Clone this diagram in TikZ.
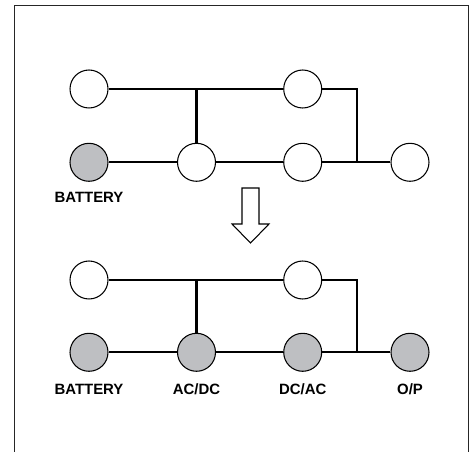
\documentclass[tikz,border=0pt]{standalone}
\usepackage{fontspec}
\setmainfont{Liberation Sans}
\usepackage{tikz}
\usetikzlibrary{positioning, calc}
\definecolor{unitgray}{RGB}{190,191,194}

\begin{document}
\begin{tikzpicture}[
  x=0.02cm, y=-0.02cm,
  %% unit styles
  unit/.style={
    circle, draw=black, line width=0.6pt, fill=white,
    inner sep=0pt, minimum size=0.76cm},
  active/.style={unit, fill=unitgray},
  bus/.style={line width=1.15pt, black},
  lbl/.style={font=\fontsize{8.5}{10}\selectfont\bfseries, inner sep=0pt},
  frame/.style={line width=1.1pt, black!85},
  hollow/.style={line width=0.6pt, black, fill=white, line join=miter}
]
\useasboundingbox (0,0) rectangle (470,452);

%% outer frame (open at the bottom)
\draw[frame] (14.5,452) -- (14.5,5.5) -- (468.5,5.5) -- (468.5,452);

%% ── Before: only the battery is active ────────────────────────────────
\node[unit]   (ta1) at (89,89) {};
\node[unit]   (ta2) at (302.7,89) {};
\node[active] (ba1) at (89,162.3) {};
\node[unit]   (ba2) at (196.5,162.3) {};
\node[unit]   (ba3) at (302.7,162.3) {};
\node[unit]   (ba4) at (410,162.3) {};
\node[lbl, below=0.21cm of ba1] (batA) {BATTERY};
\coordinate (jA) at (356.7,162.3);

\draw[bus] (ta1) -- (ta2);
\draw[bus] (ba2 |- ta1) -- (ba2);
\draw[bus] (ta2.east) -| (jA);
\draw[bus] (ba1) -- (ba2);
\draw[bus] (ba2) -- (ba3);
\draw[bus] (ba3) -- (ba4);

%% ── Hollow arrow between the two states ───────────────────────────────
\draw[hollow] (242,188) -- (242,224) -- (232,224) -- (250.5,243)
  -- (269,224) -- (259,224) -- (259,188) -- cycle;

%% ── After: lower path active ──────────────────────────────────────────
\node[unit]   (tb1) at (89,280) {};
\node[unit]   (tb2) at (302.7,280) {};
\node[active] (bb1) at (89,352.3) {};
\node[active] (bb2) at (196.5,352.3) {};
\node[active] (bb3) at (302.7,352.3) {};
\node[active] (bb4) at (410,352.3) {};
\node[lbl, below=0.24cm of bb1] (batB) {BATTERY};
\node[lbl, below=0.24cm of bb2] (acdc) {AC/DC};
\node[lbl, below=0.24cm of bb3] (dcac) {DC/AC};
\node[lbl, below=0.24cm of bb4] (outp) {O/P};
\coordinate (jB) at (356.7,352.3);

\draw[bus] (tb1) -- (tb2);
\draw[bus] (bb2 |- tb1) -- (bb2);
\draw[bus] (tb2.east) -| (jB);
\draw[bus] (bb1) -- (bb2);
\draw[bus] (bb2) -- (bb3);
\draw[bus] (bb3) -- (bb4);

\end{tikzpicture}
\end{document}
